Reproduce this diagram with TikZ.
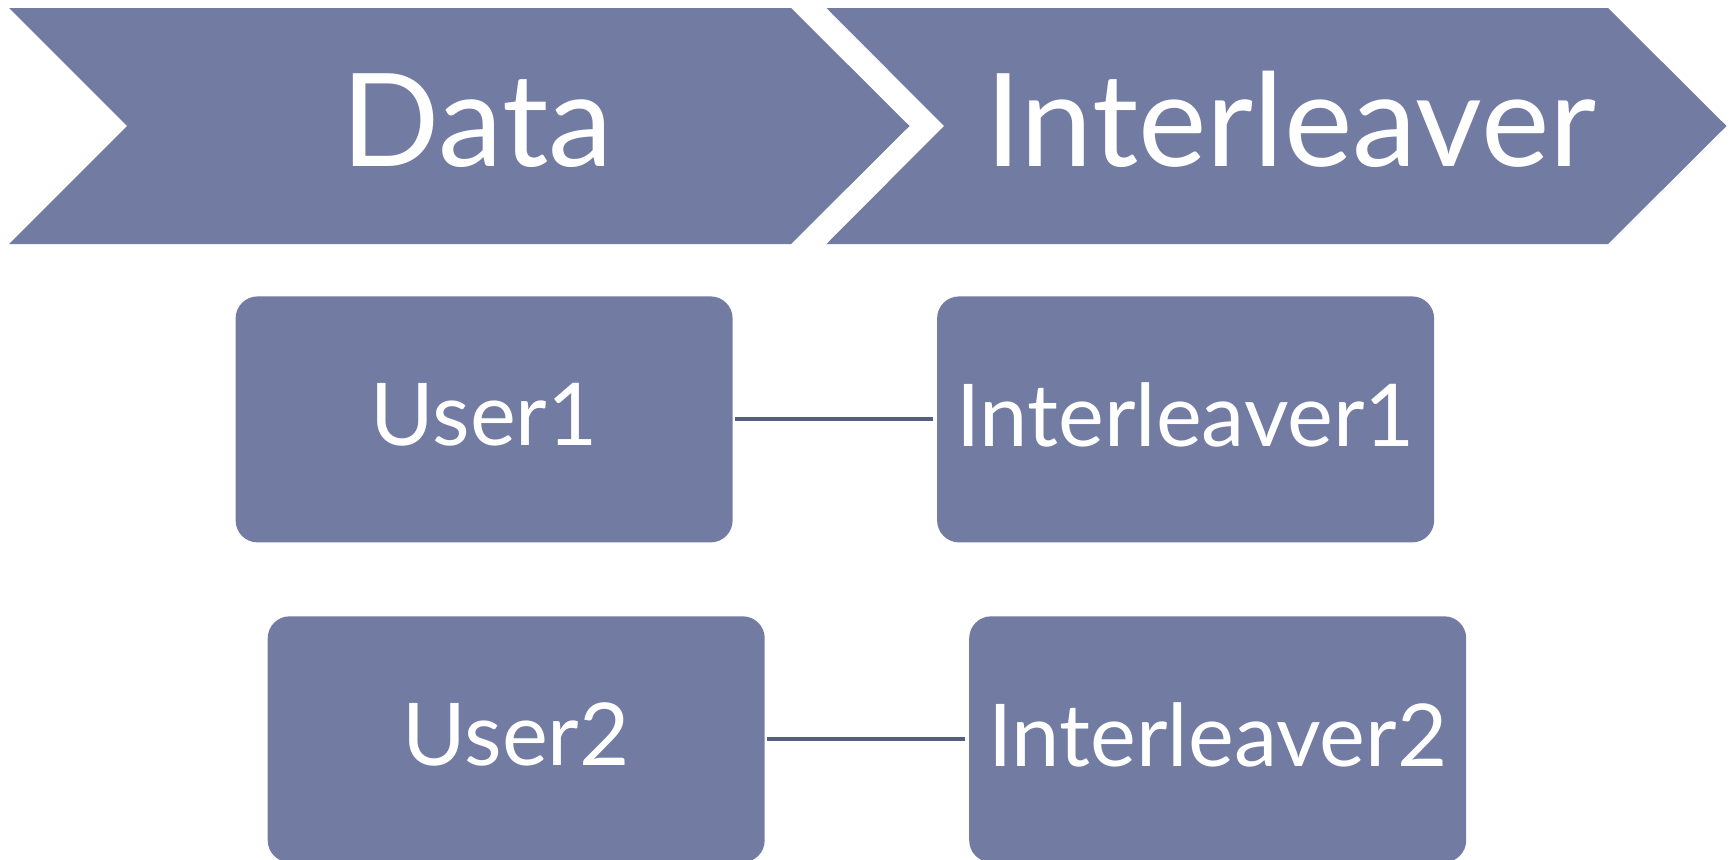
\documentclass[tikz,border=0pt]{standalone}
\usepackage{fontspec}
\setmainfont{Lato}
\definecolor{fillc}{RGB}{114,123,161}
\definecolor{linec}{RGB}{84,93,130}
\begin{document}
\begin{tikzpicture}[x=1bp,y=-1bp,
  chev/.style={fill=fillc,draw=none},
  bigtext/.style={text=white,font=\fontsize{130}{130}\selectfont,anchor=base,inner sep=0pt},
  box/.style={fill=fillc,draw=none,rounded corners=22bp,minimum width=497bp,minimum height=246bp,
    text=white,font=\fontsize{87}{87}\selectfont,inner sep=0pt,text depth=10bp},
  link/.style={draw=linec,line width=4bp,shorten <=2bp,shorten >=4bp}]
\useasboundingbox (0,0) rectangle (1735,860);
\clip (0,0) rectangle (1735,860);
% chevrons
\fill[chev] (9,8) -- (791,8) -- (909.5,126) -- (791,244) -- (9,244) -- (127,126) -- cycle;
\fill[chev] (826.5,8) -- (1608,8) -- (1726.5,126) -- (1608,244) -- (826.5,244) -- (944,126) -- cycle;
\node[bigtext] (data) at (477.5,166) {Data};
\node[bigtext] (intl) at (1291,166) {Interleaver};
% boxes
\node[box] (u1) at (484.1,419.4) {User1};
\node[box] (i1) at (1185.6,419.4) {Interleaver1};
\node[box] (u2) at (516.2,739.3) {User2};
\node[box] (i2) at (1217.7,739.3) {Interleaver2};
% connectors
\draw[link] (u1.east) -- (i1.west);
\draw[link] (u2.east) -- (i2.west);
\end{tikzpicture}
\end{document}
